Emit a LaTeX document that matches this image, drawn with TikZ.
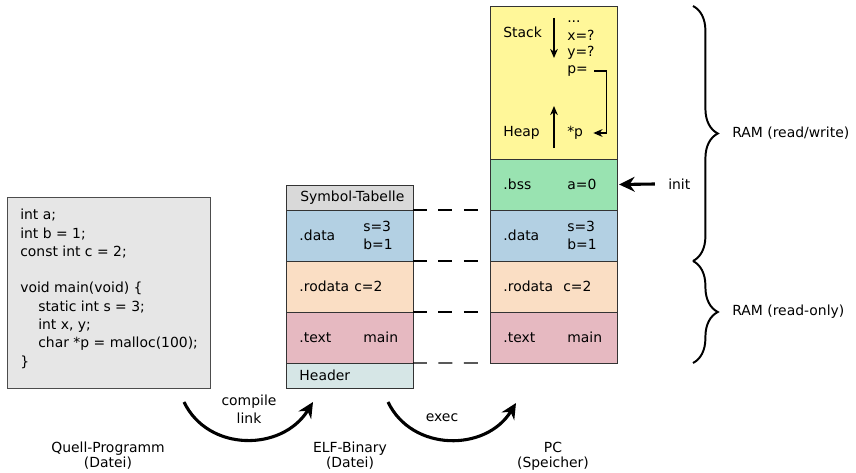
\documentclass[tikz,border=0pt]{standalone}
\usepackage{fontspec}
\setmainfont{DejaVu Sans}
\usetikzlibrary{arrows.meta,decorations.pathreplacing,positioning}

\definecolor{codegray}{HTML}{E6E6E6}
\definecolor{symgray}{HTML}{D9D9D9}
\definecolor{datablue}{HTML}{B3D0E3}
\definecolor{roorange}{HTML}{FADEC4}
\definecolor{textpink}{HTML}{E6B9C1}
\definecolor{hdrcyan}{HTML}{D6E6E6}
\definecolor{stackyellow}{HTML}{FFF799}
\definecolor{bssgreen}{HTML}{99E3B1}

\tikzset{
  sect/.style={draw=black!80, line width=0.7pt, anchor=north west, inner sep=0pt, outer sep=0pt,
    minimum width=3.175cm, minimum height=1.275cm},
  lbl/.style={anchor=west, inner sep=0pt},
  bigarrow/.style={line width=2.2pt, -{Stealth[length=11pt,width=10.5pt]}},
  thinarrow/.style={line width=0.8pt, -{Stealth[length=6.5pt,width=5.5pt]}},
  rambrace/.style={line width=1.4pt, decorate, decoration={brace, amplitude=0.62cm}},
  gapline/.style={line width=0.8pt, dash pattern=on 9.9pt off 8.2pt, shorten >=8.5pt},
}

\begin{document}
\begin{tikzpicture}[x=0.025cm,y=-0.025cm,font=\fontsize{9.9}{13}\selectfont]
\useasboundingbox (0,0) rectangle (856,473);

% Quellcode
\node[draw=black!70, fill=codegray, line width=0.7pt, anchor=north west, inner sep=0pt,
  minimum width=5.075cm, minimum height=4.775cm] (src) at (7,197) {};
\node[lbl, anchor=north west, align=left] (code) at (20,209)
  {int a;\\
   int b = 1;\\
   const int c = 2;\\[13pt]
   void main(void) \{\\
   \hspace*{12.8pt}static int s = 3;\\
   \hspace*{12.8pt}int x, y;\\
   \hspace*{12.8pt}char *p = malloc(100);\\
   \}};

% ELF-Binary
\node[sect, fill=symgray, minimum height=0.625cm] (elfsym) at (286,185) {};
\node[sect, fill=datablue] (elfdata) at (286,210) {};
\node[sect, fill=roorange] (elfro) at (286,261) {};
\node[sect, fill=textpink] (elftext) at (286,312) {};
\node[sect, fill=hdrcyan, minimum height=0.625cm] (elfhdr) at (286,363) {};

\node[lbl] (elfsymlbl) at ([xshift=0.35cm]elfsym.west) {Symbol-Tabelle};
\node[lbl] (elfdatalbl) at ([xshift=0.33cm]elfdata.west) {.data};
\node[lbl, align=left] (elfdataval) at ([xshift=1.925cm]elfdata.west) {s=3\\b=1};
\node[lbl] (elfrolbl) at ([xshift=0.33cm]elfro.west) {.rodata};
\node[lbl] (elfroval) at ([xshift=1.7cm]elfro.west) {c=2};
\node[lbl] (elftextlbl) at ([xshift=0.33cm]elftext.west) {.text};
\node[lbl] (elftextval) at ([xshift=1.925cm]elftext.west) {main};
\node[lbl] (elfhdrlbl) at ([xshift=0.33cm]elfhdr.west) {Header};

% PC (Speicher)
\node[sect, fill=stackyellow, minimum height=3.825cm] (pcstack) at (490,6) {};
\node[sect, fill=bssgreen] (pcbss) at (490,159) {};
\node[sect, fill=datablue] (pcdata) at (490,210) {};
\node[sect, fill=roorange] (pcro) at (490,261) {};
\node[sect, fill=textpink] (pctext) at (490,312) {};

\node[lbl] (stacklbl) at (503,32) {Stack};
\node[lbl] (heaplbl) at (503,133) {Heap};
\node[lbl] (dots) at (567,17) {...\vphantom{x=?}};
\node[lbl] (xq) at (567,35) {x=?};
\node[lbl] (yq) at (567,53) {y=?};
\node[lbl] (pp) at (567,71) {p=};
\node[lbl] (pstar) at (567,133) {*p};
\coordinate (sdown) at (554,18);
\coordinate (sdownend) at (554,58);
\coordinate (hup) at (554,148);
\coordinate (hupend) at (554,106);
\draw[thinarrow] (sdown) -- (sdownend);
\draw[thinarrow] (hup) -- (hupend);
\draw[thinarrow] ([xshift=0.15cm]pp.east) -- ++(0.3cm,0) |- ([xshift=0.25cm]pstar.east);

\node[lbl] (pcbsslbl) at ([xshift=0.33cm]pcbss.west) {.bss};
\node[lbl] (pcbssval) at ([xshift=1.925cm]pcbss.west) {a=0};
\node[lbl] (pcdatalbl) at ([xshift=0.33cm]pcdata.west) {.data};
\node[lbl, align=left] (pcdataval) at ([xshift=1.925cm]pcdata.west) {s=3\\b=1};
\node[lbl] (pcrolbl) at ([xshift=0.33cm]pcro.west) {.rodata};
\node[lbl] (pcroval) at ([xshift=1.825cm]pcro.west) {c=2};
\node[lbl] (pctextlbl) at ([xshift=0.33cm]pctext.west) {.text};
\node[lbl] (pctextval) at ([xshift=1.925cm]pctext.west) {main};

% Verbindungen ELF -> PC
\draw[gapline] (elfdata.north east) -- (pcdata.north west);
\draw[gapline] (elfro.north east) -- (pcro.north west);
\draw[gapline] (elftext.north east) -- (pctext.north west);
\draw[gapline] (elfhdr.north east) -- (pctext.south west);

% init
\node[lbl] (init) at (668,184) {init};
\draw[bigarrow] ([xshift=-0.33cm]init.west) -- ([xshift=1.5pt]pcbss.east);

% RAM
\draw[rambrace] (693,6) -- (693,261);
\draw[rambrace] (693,261) -- (693,363);
\node[lbl] (ramrw) at (732,133) {RAM (read/write)};
\node[lbl] (ramro) at (732,312) {RAM (read-only)};

% compile / exec
\coordinate (cstart) at (184,402);
\coordinate (cend) at (313,402);
\coordinate (estart) at (388,402);
\coordinate (eend) at (516,403);
\draw[bigarrow] (cstart) .. controls (208,452) and (282,452) .. (cend);
\draw[bigarrow] (estart) .. controls (412,452) and (486,452) .. (eend);
\node[align=center, inner sep=0pt] (compile) at (249,409) {compile\\link};
\node[inner sep=0pt] (exec) at (442,418) {exec};

% Beschriftung unten
\node[align=center, inner sep=0pt, font=\fontsize{9.9}{10.6}\selectfont] (srclbl) at (108,456) {Quell-Programm\\(Datei)};
\node[align=center, inner sep=0pt, font=\fontsize{9.9}{10.6}\selectfont] (elflbl) at (350,456) {ELF-Binary\\(Datei)};
\node[align=center, inner sep=0pt, font=\fontsize{9.9}{10.6}\selectfont] (pclbl) at (553,456) {PC\\(Speicher)};

\end{tikzpicture}
\end{document}
